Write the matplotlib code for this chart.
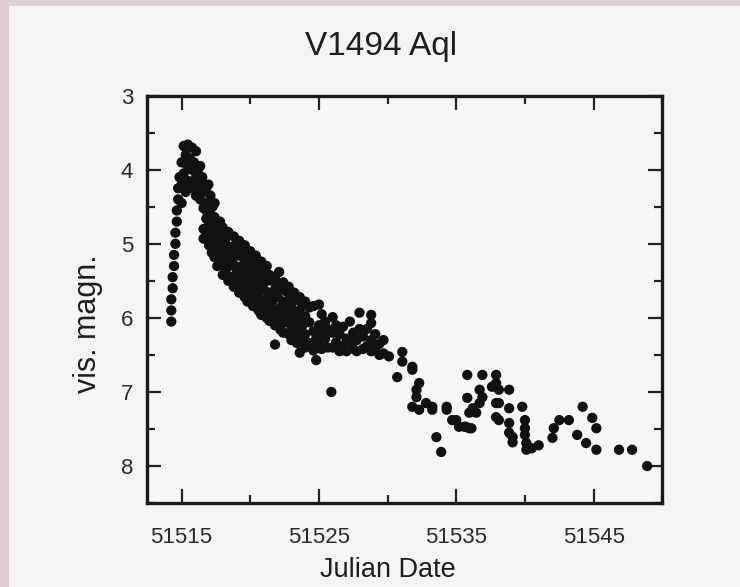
import matplotlib.pyplot as plt
from matplotlib.ticker import MultipleLocator
from matplotlib.patches import Rectangle

plt.rcParams['font.family'] = ['Liberation Sans', 'DejaVu Sans']

# Visual magnitudes, grouped by Julian Date (JD - 2400000)
rise = {
    51514.25: [6.05, 5.9, 5.75], 51514.35: [5.6, 5.45], 51514.45: [5.3, 5.15],
    51514.55: [5.0, 4.85], 51514.65: [4.7, 4.55], 51514.75: [4.4, 4.25],
    51514.85: [4.1],
}

peak = {
    51515.0: [3.9, 4.2, 4.45], 51515.15: [3.68, 4.05], 51515.3: [3.8, 4.3],
    51515.45: [3.66, 3.95, 4.15], 51515.6: [3.85, 4.25], 51515.75: [3.7, 4.0],
    51515.9: [3.9, 4.2], 51516.05: [3.75, 4.1, 4.35], 51516.2: [4.0, 4.25],
    51516.35: [3.95, 4.15, 4.4], 51516.5: [4.1, 4.3], 51516.65: [4.2, 4.45],
    51516.8: [4.3, 4.55], 51516.95: [4.2, 4.45, 4.65], 51517.1: [4.35, 4.6],
    51517.25: [4.5, 4.75], 51517.4: [4.45, 4.7],
}

decline = {
    51516.6: [4.52, 4.8, 4.93], 51516.8: [4.66, 4.88], 51517.0: [4.58, 4.72, 5.02],
    51517.2: [4.83, 4.95, 5.12], 51517.4: [4.64, 4.78, 5.06, 5.18],
    51517.6: [4.9, 5.0, 5.3], 51517.8: [4.7, 4.86, 5.15, 5.25],
    51518.0: [4.78, 5.1, 5.42], 51518.2: [4.92, 5.0, 5.24, 5.36],
    51518.4: [4.84, 5.14, 5.3, 5.5], 51518.6: [5.04, 5.2, 5.45],
    51518.8: [4.9, 5.12, 5.28, 5.58], 51519.0: [5.0, 5.35, 5.5],
    51519.2: [4.96, 5.16, 5.42, 5.66], 51519.4: [5.08, 5.3, 5.6],
    51519.6: [5.02, 5.22, 5.5, 5.72], 51519.8: [5.14, 5.4, 5.62, 5.78],
    51520.0: [5.1, 5.3, 5.56, 5.7], 51520.2: [5.2, 5.46, 5.84],
    51520.4: [5.16, 5.36, 5.62, 5.78], 51520.6: [5.28, 5.55, 5.7, 5.9],
    51520.8: [5.24, 5.44, 5.8, 5.96], 51521.0: [5.35, 5.62, 5.88],
    51521.2: [5.3, 5.5, 5.75, 6.0], 51521.4: [5.42, 5.66, 5.84, 6.04],
    51521.6: [5.5, 5.78, 5.95], 51521.8: [5.46, 5.62, 5.9, 6.1, 6.36],
    51522.0: [5.55, 5.72, 6.02], 51522.1: [5.38], 51522.2: [5.6, 5.86, 6.1, 6.16],
    51522.4: [5.52, 5.78, 5.96, 6.2], 51522.6: [5.64, 5.9, 6.06],
    51522.8: [5.58, 5.76, 6.0, 6.22], 51523.0: [5.7, 5.86, 6.15, 6.3],
    51523.2: [5.66, 5.95, 6.08], 51523.4: [5.76, 6.02, 6.25, 6.34],
    51523.6: [5.72, 5.9, 6.16, 6.47], 51523.8: [5.82, 6.1, 6.3],
    51524.0: [5.78, 5.98, 6.22, 6.4], 51524.3: [5.86, 6.06, 6.34],
    51524.6: [5.84, 6.18, 6.44], 51524.8: [6.28, 6.57],
}

plateau = {
    51525.0: [5.82, 6.1, 6.35], 51525.2: [5.95, 6.2, 6.42], 51525.45: [6.05, 6.28],
    51525.65: [6.15, 6.4], 51525.9: [7.0], 51526.0: [5.99, 6.2, 6.4],
    51526.25: [6.1, 6.33], 51526.5: [6.22, 6.45], 51526.75: [6.12, 6.38],
    51527.0: [6.28, 6.45], 51527.25: [6.05, 6.32], 51527.5: [6.2, 6.42],
    51527.75: [6.3, 6.45], 51527.95: [5.93, 6.15], 51528.2: [6.25, 6.42],
    51528.5: [6.15, 6.38], 51528.8: [5.96, 6.07, 6.3, 6.45], 51529.1: [6.22, 6.4],
    51529.4: [6.35, 6.5], 51529.7: [6.3, 6.48], 51530.1: [6.52], 51530.7: [6.8],
    51531.07: [6.46, 6.59],
}

late = {
    51531.8: [6.66, 6.7, 7.2], 51532.1: [6.97, 7.07], 51532.3: [6.88, 7.24],
    51532.8: [7.15], 51533.25: [7.2, 7.24], 51533.55: [7.61], 51533.9: [7.81],
    51534.3: [7.2, 7.24], 51534.7: [7.38], 51535.0: [7.38], 51535.2: [7.47],
    51535.6: [7.47], 51535.7: [7.47], 51535.8: [6.77, 7.08], 51535.95: [7.28, 7.49],
    51536.1: [7.49], 51536.2: [7.22], 51536.45: [7.28], 51536.7: [6.97, 7.15],
    51536.9: [6.77, 7.07], 51537.6: [6.93], 51537.9: [6.77, 6.88, 7.15, 7.34],
    51538.1: [6.97, 7.15, 7.38], 51538.85: [6.97, 7.22, 7.42, 7.55],
    51539.1: [7.61, 7.68], 51539.8: [7.2], 51540.0: [7.38, 7.49, 7.58],
    51540.1: [7.69, 7.78], 51540.5: [7.76], 51541.0: [7.72],
    51542.0: [7.62], 51542.1: [7.49], 51542.5: [7.38], 51543.2: [7.38],
    51543.8: [7.58], 51544.2: [7.2], 51544.45: [7.69], 51544.9: [7.35],
    51545.2: [7.49, 7.78], 51546.85: [7.78], 51547.8: [7.78], 51548.9: [8.0],
}

jd, mag = [], []
for part in [rise, peak, decline, plateau, late]:
    for day, values in part.items():
        for v in values:
            jd.append(day)
            mag.append(v)

fig = plt.figure(figsize=(7.4, 5.87), dpi=100, facecolor='#dccfd5')
# light paper inside the pinkish scan border
fig.patches.append(Rectangle((0.012, 0.0), 0.988, 0.99, transform=fig.transFigure,
                             facecolor='#f6f4f2', edgecolor='none', zorder=-10))
ax = fig.add_axes([0.199, 0.143, 0.696, 0.694])
ax.set_facecolor('#f8f6f4')

ax.scatter(jd, mag, s=55, color='#111111', edgecolors='none', zorder=3)

ax.set_xlim(51512.5, 51550)
ax.set_ylim(8.5, 3)
ax.xaxis.set_minor_locator(MultipleLocator(5))
ax.yaxis.set_major_locator(MultipleLocator(1))
ax.yaxis.set_minor_locator(MultipleLocator(0.5))
ax.set_xticks([51515, 51525, 51535, 51545])
ax.ticklabel_format(useOffset=False, style='plain')

ax.tick_params(which='both', direction='in', top=True, right=True, color='#222222')
ax.tick_params(which='major', length=10, width=1.6, labelsize=16, labelcolor='#2a2a2a')
ax.tick_params(which='minor', length=6, width=1.6)
ax.tick_params(axis='x', which='major', pad=17)
ax.tick_params(axis='y', which='major', pad=10)
for sp in ax.spines.values():
    sp.set_linewidth(2.4)
    sp.set_color('#1a1a1a')

fig.text(0.524, 0.029, 'Julian Date', ha='center', va='center', fontsize=19.5, color='#1e1e1e')
fig.text(0.119, 0.448, 'vis. magn.', ha='center', va='center', rotation=90,
         fontsize=22, color='#1e1e1e')
fig.text(0.515, 0.92, 'V1494 Aql', ha='center', va='center', fontsize=24, color='#1e1e1e')

fig.savefig('out.png', dpi=100, facecolor=fig.get_facecolor())
